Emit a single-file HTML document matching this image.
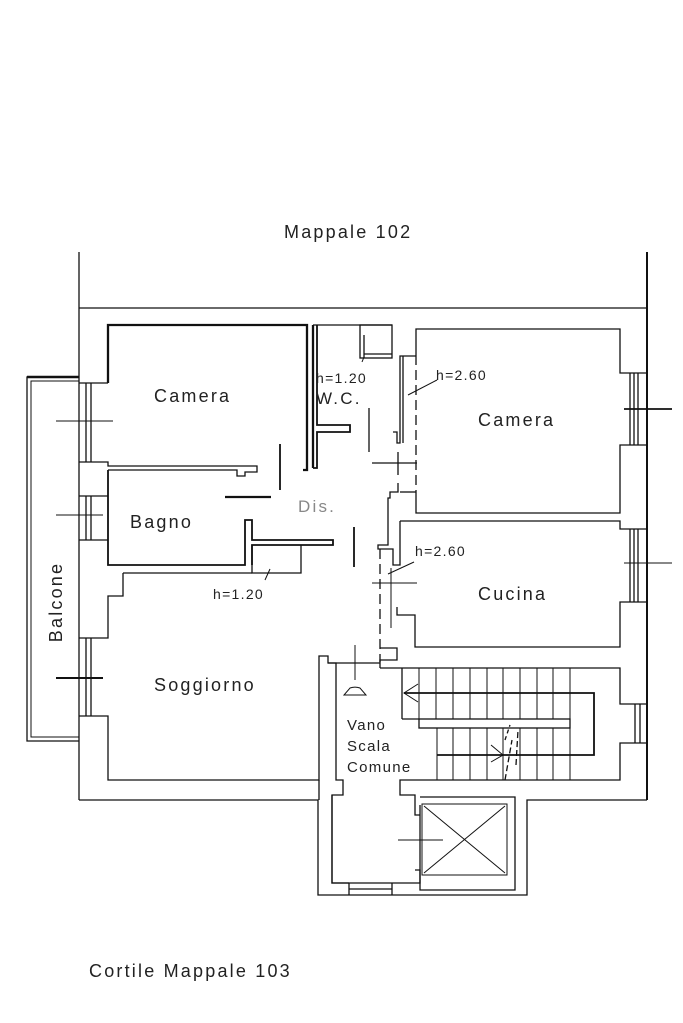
<!DOCTYPE html>
<html><head><meta charset="utf-8"><style>
html,body{margin:0;padding:0;background:#fff;}
svg{display:block;}
text{font-family:"Liberation Sans",sans-serif;fill:#222;}
.l{letter-spacing:2.2px;}
.s{letter-spacing:1.3px;}
</style></head><body>
<svg width="683" height="1023" viewBox="0 0 683 1023" xmlns="http://www.w3.org/2000/svg">
<g fill="none" stroke="#111" stroke-width="1.3">
<line x1="79" y1="252" x2="79" y2="800"/>
<line x1="647" y1="252" x2="647" y2="800" stroke-width="2"/>
<line x1="79" y1="308" x2="647" y2="308"/>
<polyline points="79,800 318,800 318,895 527,895 527,800 647,800"/>
<polyline points="79,377 27,377 27,741 79,741"/>
<polyline points="79,381 31,381 31,737 79,737" stroke-width="1"/>
<line x1="27" y1="377" x2="79" y2="377" stroke-width="2.5"/>
<polyline points="108,383 108,325 307,325 307,470 303,470" stroke-width="2.3"/>
<line x1="313" y1="325" x2="313" y2="468" stroke-width="2.3"/>
<polyline points="79,383 108,383"/>
<line x1="86" y1="383" x2="86" y2="462"/><line x1="91" y1="383" x2="91" y2="462"/>
<polyline points="79,462 108,462 108,466 257,466 257,472 245,472 245,476 237,476 237,470 108,470"/>
<polyline points="108,470 108,565 245,565 245,520 252,520 252,540 333,540 333,545 252,545 252,565" stroke-width="1.8"/>
<line x1="79" y1="496" x2="108" y2="496"/>
<line x1="86" y1="496" x2="86" y2="540"/><line x1="91" y1="496" x2="91" y2="540"/>
<line x1="79" y1="540" x2="108" y2="540"/>
<polyline points="252,545 252,573 301,573 301,545"/>
<polyline points="123,573 252,573"/>
<polyline points="123,573 123,596 108,596 108,638 79,638"/>
<line x1="86" y1="638" x2="86" y2="716"/><line x1="91" y1="638" x2="91" y2="716"/>
<polyline points="79,716 108,716 108,780 319,780 319,656 328,656 328,663 380,663"/>
<polyline points="328,663 336,663 336,780 343,780 343,795 332,795 332,883 349,883"/>
<line x1="319" y1="780" x2="319" y2="800"/>
<line x1="313" y1="325" x2="392" y2="325"/>
<polyline points="317,325 317,425 350,425 350,432 317,432 317,468 313,468" stroke-width="1.8"/>
<rect x="360" y="325" width="32" height="33"/>
<line x1="364" y1="335" x2="364" y2="358"/><line x1="364" y1="354" x2="392" y2="354"/>
<polyline points="416,356 400,356 400,443 397,443 397,432 393,432"/>
<line x1="403" y1="356" x2="403" y2="443"/>
<line x1="369" y1="408" x2="369" y2="452"/>
<line x1="372" y1="463" x2="417" y2="463"/>
<line x1="398" y1="452" x2="398" y2="475"/>
<polyline points="398,483 398,492 390,492 390,498 388,498 388,545 378,545 378,549 393,549 393,565 400,565 400,521"/>
<line x1="400" y1="492" x2="416" y2="492"/>
<line x1="416" y1="355" x2="416" y2="492" stroke-dasharray="10,5"/>
<line x1="380" y1="549" x2="380" y2="662" stroke-dasharray="10,5"/>
<line x1="391" y1="568" x2="391" y2="628" stroke-width="1"/>
<polyline points="416,355 416,329 620,329 620,373 647,373"/>
<line x1="630" y1="373" x2="630" y2="445"/><line x1="634" y1="373" x2="634" y2="445"/><line x1="638" y1="373" x2="638" y2="445"/>
<polyline points="647,445 620,445 620,513 416,513 416,492"/>
<polyline points="400,521 620,521 620,529 647,529"/>
<line x1="630" y1="529" x2="630" y2="602"/><line x1="634" y1="529" x2="634" y2="602"/><line x1="638" y1="529" x2="638" y2="602"/>
<polyline points="647,602 620,602 620,647 415,647 415,615 397,615 397,607"/>
<polyline points="380,648 397,648 397,660 380,660 380,668"/>
<polyline points="380,668 620,668 620,704 647,704"/>
<line x1="635" y1="704" x2="635" y2="743"/><line x1="640" y1="704" x2="640" y2="743"/>
<polyline points="647,743 620,743 620,780 400,780 400,795 415,795 415,815 420,815"/>
<line x1="402" y1="668" x2="402" y2="719"/>
<line x1="402" y1="719" x2="419" y2="719"/>
<rect x="419" y="719" width="151" height="9"/>
<g stroke-width="1">
<line x1="419" y1="668" x2="419" y2="719"/><line x1="436" y1="668" x2="436" y2="719"/><line x1="453" y1="668" x2="453" y2="719"/><line x1="470" y1="668" x2="470" y2="719"/><line x1="487" y1="668" x2="487" y2="719"/><line x1="503" y1="668" x2="503" y2="719"/><line x1="520" y1="668" x2="520" y2="719"/><line x1="537" y1="668" x2="537" y2="719"/><line x1="553" y1="668" x2="553" y2="719"/><line x1="570" y1="668" x2="570" y2="719"/>
<line x1="437" y1="728" x2="437" y2="780"/><line x1="453" y1="728" x2="453" y2="780"/><line x1="470" y1="728" x2="470" y2="780"/><line x1="487" y1="728" x2="487" y2="780"/><line x1="503" y1="728" x2="503" y2="780"/><line x1="520" y1="728" x2="520" y2="780"/><line x1="537" y1="728" x2="537" y2="780"/><line x1="553" y1="728" x2="553" y2="780"/><line x1="570" y1="728" x2="570" y2="780"/>
</g>
<polyline points="404,693 594,693 594,755 437,755" stroke-width="1.8"/>
<polyline points="418,684 404,693 418,702" stroke-width="1"/>
<polyline points="491,745 503,755 491,762" stroke-width="1"/>
<line x1="505" y1="740" x2="510" y2="725" stroke-dasharray="4,3"/>
<line x1="505" y1="780" x2="512" y2="740" stroke-dasharray="6,3"/>
<line x1="516" y1="765" x2="518" y2="730" stroke-dasharray="6,3"/>
<line x1="355" y1="645" x2="355" y2="680" stroke-width="1"/>
<line x1="225" y1="497" x2="271" y2="497" stroke-width="2.2"/>
<line x1="280" y1="444" x2="280" y2="490" stroke-width="1.8"/>
<line x1="354" y1="527" x2="354" y2="567" stroke-width="1.8"/>
<line x1="372" y1="583" x2="417" y2="583" stroke-width="1"/>
<line x1="56" y1="421" x2="113" y2="421" stroke-width="1"/>
<line x1="56" y1="515" x2="103" y2="515" stroke-width="1"/>
<line x1="56" y1="678" x2="103" y2="678" stroke-width="2"/>
<line x1="624" y1="409" x2="672" y2="409" stroke-width="1.8"/>
<line x1="624" y1="563" x2="672" y2="563" stroke-width="1"/>
<line x1="398" y1="840" x2="443" y2="840" stroke-width="1"/>
<line x1="408" y1="395" x2="437" y2="380" stroke-width="1"/>
<line x1="388" y1="574" x2="414" y2="562" stroke-width="1"/>
<line x1="265" y1="580" x2="270" y2="569" stroke-width="1"/>
<line x1="362" y1="362" x2="364" y2="357" stroke-width="1"/>
<path d="M344,695 L366,695 L360,688 A10,6 0 0 0 350,688 Z" stroke-width="1"/>
<polyline points="332,795 332,883 420,883 420,805"/>
<line x1="349" y1="883" x2="349" y2="895"/><line x1="392" y1="883" x2="392" y2="895"/>
<line x1="349" y1="889" x2="392" y2="889"/>
<polyline points="420,797 515,797 515,890 420,890 420,870 415,870"/>
<rect x="422" y="804" width="85" height="71" stroke-width="1"/>
<line x1="424" y1="806" x2="505" y2="873" stroke-width="1"/>
<line x1="505" y1="806" x2="424" y2="873" stroke-width="1"/>
</g>
<text class="l" x="284" y="238" font-size="18">Mappale 102</text>
<text class="l" x="89" y="977" font-size="18">Cortile Mappale 103</text>
<text class="l" x="154" y="402" font-size="18">Camera</text>
<text class="l" x="478" y="426" font-size="18">Camera</text>
<text class="l" x="130" y="528" font-size="18">Bagno</text>
<text class="l" x="298" y="512" font-size="17" style="fill:#888">Dis.</text>
<text class="l" x="478" y="600" font-size="18">Cucina</text>
<text class="l" x="154" y="691" font-size="18">Soggiorno</text>
<text class="s" x="316" y="383" font-size="14">h=1.20</text>
<text class="l" x="316" y="404" font-size="17">W.C.</text>
<text class="s" x="436" y="380" font-size="14">h=2.60</text>
<text class="s" x="415" y="556" font-size="14">h=2.60</text>
<text class="s" x="213" y="599" font-size="14">h=1.20</text>
<text class="s" x="347" y="730" font-size="15">Vano</text>
<text class="s" x="347" y="751" font-size="15">Scala</text>
<text class="s" x="347" y="772" font-size="15">Comune</text>
<text class="l" transform="translate(62,602) rotate(-90)" font-size="18" text-anchor="middle">Balcone</text>
</svg>
</body></html>
